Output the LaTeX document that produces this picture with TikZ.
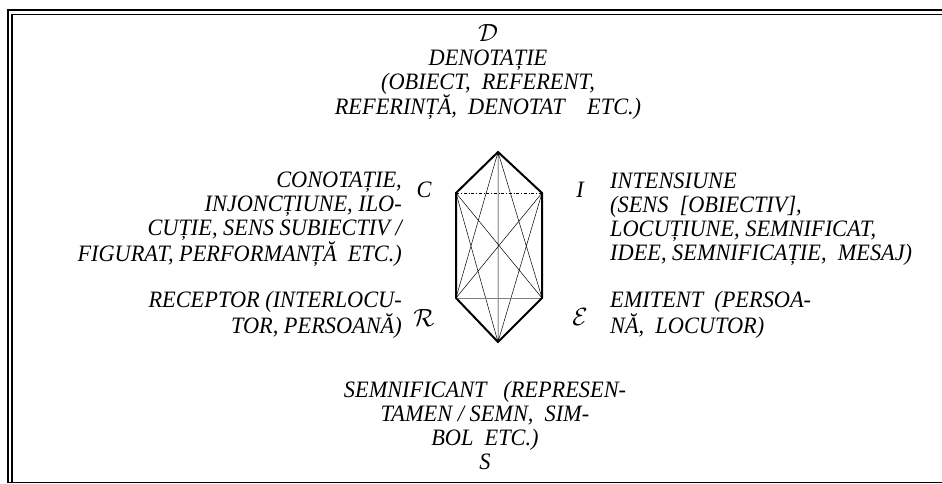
\documentclass[tikz,border=0pt]{standalone}
\usepackage{fontspec}
\setmainfont{Liberation Serif}[FakeStretch=0.95]
\begin{document}
\begin{tikzpicture}[x=1pt,y=-1pt,
  txt/.style={font=\fontsize{23.5}{24}\selectfont\itshape, inner sep=0pt},
  hexedge/.style={line width=2pt, line join=miter},
  fineline/.style={line width=0.5pt}]
\useasboundingbox (0,0) rectangle (942,484);
% frame
\draw[line width=2pt] (7.5,483) -- (7.5,10) -- (942,10);
\draw[line width=1.3pt] (12,483) -- (12,14.5) -- (942,14.5);
\draw[line width=1.3pt] (7,482.5) -- (942,482.5);
% hexagon
\coordinate (top) at (498,152);
\coordinate (ul) at (456,193);
\coordinate (ur) at (542,193);
\coordinate (ll) at (456,298);
\coordinate (lr) at (542,298);
\coordinate (bot) at (498,342);
\draw[fineline] (top) -- (ll) (top) -- (lr) (bot) -- (ul) (bot) -- (ur)
  (ul) -- (lr) (ur) -- (ll) (top) -- (bot);
\draw[fineline,dash dot] (ul) -- (ur);
\draw[fineline,gray] (ll) -- (lr);
\draw[hexedge] (top) -- (ul) -- (ll) -- (bot) -- (lr) -- (ur) -- cycle;
% corner letters
\node[txt] (c) at (424,190) {C};
\node[txt] (i) at (580,190) {I};
\node[txt] (r) at (424,318) {$\mathcal{R}$};
\node[txt] (e) at (580,317) {$\mathcal{E}$};
% text blocks
\node[txt,align=center] (denot) at (488,72)
  {$\mathcal{D}$\\DENOTAȚIE\\(OBIECT,\ \ REFERENT,\\REFERINȚĂ,\ \ DENOTAT\ \ \ \ ETC.)};
\node[txt,align=right,anchor=east] (conot) at (402,219)
  {CONOTAȚIE,\\INJONCȚIUNE, ILO-\\CUȚIE, SENS SUBIECTIV /\\FIGURAT, PERFORMANȚĂ\ \ ETC.)};
\node[txt,align=right,anchor=east] (recep) at (402,315)
  {RECEPTOR (INTERLOCU-\\TOR, PERSOANĂ)};
\node[txt,align=left,anchor=west] (inten) at (610,219)
  {INTENSIUNE\\(SENS\ \ [OBIECTIV],\\LOCUȚIUNE, SEMNIFICAT,\\IDEE, SEMNIFICAȚIE,\ \ MESAJ)};
\node[txt,align=left,anchor=west] (emit) at (610,315)
  {EMITENT\ \ (PERSOA-\\NĂ,\ \ LOCUTOR)};
\node[txt,align=center] (semn) at (485,425)
  {SEMNIFICANT\ \ \ (REPRESEN-\\TAMEN\ /\ SEMN,\ \ SIM-\\BOL\ \ ETC.)\\S};
\end{tikzpicture}
\end{document}
